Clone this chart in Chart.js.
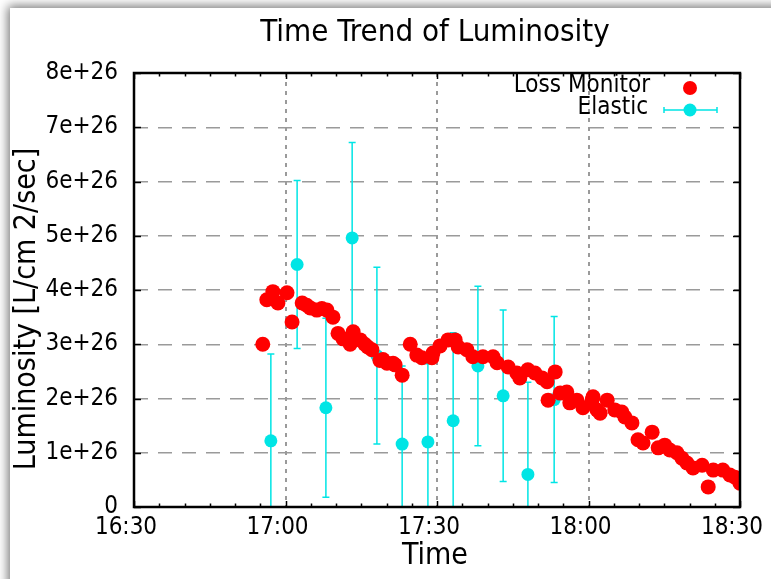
<!DOCTYPE html>
<html>
<head>
<meta charset="utf-8">
<script src="https://cdn.jsdelivr.net/npm/chart.js@4.4.0/dist/chart.umd.min.js"></script>
<style>
	html, body { margin: 0; padding: 0; background: #fff; }
	#wrap { position: absolute; left: 0; top: 0; width: 771px; height: 579px; overflow: hidden; }
	#shade { position: absolute; left: 10px; top: 8px; width: 800px; height: 620px; box-shadow: -2px -2px 10px rgba(0,0,0,0.55); background: #fff; }
	canvas { position: absolute; left: 0; top: 0; }
</style>
</head>
<body>
<div id="wrap">
	<div id="shade"></div>
	<canvas id="grafik" width="771" height="579"></canvas>
</div>
<script>
// time = minutes after 16:30
var lossTime = [25.5, 26.3, 27.5, 28.5, 30.3, 31.3, 33.3, 34.2, 34.9, 36.2, 37.2, 38.2, 39.4, 40.4, 41.4, 42.8, 43.4,
	44.8, 45.7, 46.3, 47.1, 48.7, 49.3, 50.1, 51.3, 51.7, 53.1, 54.7, 56.0, 57.0, 59.0, 59.2, 60.6, 62.2, 63.6, 64.2,
	65.9, 67.1, 69.1, 71.1, 71.9, 74.1, 75.8, 76.4, 78.0, 79.4, 80.8, 81.8, 82.0, 83.4, 84.4, 85.7,
	86.3, 87.7, 88.9, 90.7, 90.9, 91.7, 92.3, 93.7, 95.2, 96.6, 97.2, 98.6, 99.8, 100.8, 102.6, 103.8,
	105.1, 106.1, 107.5, 108.5, 109.5, 110.7, 112.5, 113.7, 114.7, 116.6, 118.0, 119.0, 120.0];
var lossLum = [3.00e26, 3.82e26, 3.97e26, 3.76e26, 3.95e26, 3.41e26, 3.76e26, 3.72e26, 3.67e26, 3.63e26, 3.66e26, 3.63e26, 3.50e26, 3.20e26, 3.10e26, 3.00e26, 3.23e26,
	3.08e26, 3.00e26, 2.95e26, 2.90e26, 2.70e26, 2.72e26, 2.65e26, 2.65e26, 2.62e26, 2.43e26, 3.00e26, 2.80e26, 2.75e26, 2.75e26, 2.84e26, 2.97e26, 3.08e26, 3.08e26, 2.95e26,
	2.90e26, 2.77e26, 2.77e26, 2.77e26, 2.66e26, 2.58e26, 2.47e26, 2.38e26, 2.53e26, 2.47e26, 2.38e26, 2.31e26, 1.97e26, 2.49e26, 2.10e26, 2.12e26,
	1.92e26, 1.97e26, 1.83e26, 1.97e26, 2.03e26, 1.79e26, 1.73e26, 1.97e26, 1.79e26, 1.75e26, 1.66e26, 1.55e26, 1.24e26, 1.18e26, 1.38e26, 1.09e26,
	1.14e26, 1.05e26, 1.00e26, 0.90e26, 0.81e26, 0.72e26, 0.77e26, 0.37e26, 0.68e26, 0.68e26, 0.59e26, 0.55e26, 0.44e26];

var elasticTime = [27.1, 32.3, 38.0, 43.2, 48.1, 53.1, 58.2, 63.2, 68.1, 73.1, 78.0, 83.2];
var elasticLum = [1.22e26, 4.47e26, 1.83e26, 4.96e26, 2.79e26, 1.16e26, 1.20e26, 1.59e26, 2.60e26, 2.05e26, 0.60e26, 1.98e26];
var elasticErr = [1.60e26, 1.55e26, 1.65e26, 1.76e26, 1.63e26, 1.44e26, 1.44e26, 1.62e26, 1.47e26, 1.58e26, 1.70e26, 1.53e26];

var xTicks = ['16:30', '17:00', '17:30', '18:00', '18:30'];

var FONT = '"Liberation Sans Narrow", "Arial Narrow", "DejaVu Sans Condensed", "Liberation Sans", sans-serif';
var RED = '#ff0000';
var CYAN = '#00e5e5';

function toPoints(xs, ys) {
	var out = [];
	for (var i = 0; i < xs.length; i++) {
		out.push({ x: xs[i], y: ys[i] });
	}
	return out;
}

// error bars, frame, inner ticks, titles and legend
var decor = {
	id: 'decor',
	beforeDatasetDraw: function (chart, args) {
		if (args.index !== 1) return;
		var ctx = chart.ctx;
		var xs = chart.scales.x, ys = chart.scales.y, area = chart.chartArea;
		ctx.save();
		ctx.beginPath();
		ctx.rect(area.left, area.top, area.right - area.left, area.bottom - area.top);
		ctx.clip();
		ctx.strokeStyle = CYAN;
		ctx.lineWidth = 1.5;
		for (var i = 0; i < elasticTime.length; i++) {
			var px = xs.getPixelForValue(elasticTime[i]);
			var top = ys.getPixelForValue(elasticLum[i] + elasticErr[i]);
			var bot = ys.getPixelForValue(elasticLum[i] - elasticErr[i]);
			ctx.beginPath();
			ctx.moveTo(px, top); ctx.lineTo(px, bot);
			ctx.moveTo(px - 3.5, top); ctx.lineTo(px + 3.5, top);
			ctx.moveTo(px - 3.5, bot); ctx.lineTo(px + 3.5, bot);
			ctx.stroke();
		}
		ctx.restore();
	},
	afterDraw: function (chart) {
		var ctx = chart.ctx;
		var xs = chart.scales.x, ys = chart.scales.y, a = chart.chartArea;
		ctx.save();
		ctx.strokeStyle = '#000';
		ctx.lineWidth = 1.5;
		ctx.beginPath();
		for (var m = xs.min; m <= xs.max; m += 5) {
			var px = Math.round(xs.getPixelForValue(m)) + 0.5;
			var len = (m % 30 === 0) ? 6 : 3.5;
			ctx.moveTo(px, a.bottom); ctx.lineTo(px, a.bottom - len);
			ctx.moveTo(px, a.top); ctx.lineTo(px, a.top + len);
		}
		for (var v = ys.min; v <= ys.max; v += 1e26) {
			var py = Math.round(ys.getPixelForValue(v)) + 0.5;
			ctx.moveTo(a.left, py); ctx.lineTo(a.left + 7, py);
			ctx.moveTo(a.right, py); ctx.lineTo(a.right - 7, py);
		}
		ctx.stroke();
		ctx.lineWidth = 2.5;
		ctx.strokeRect(a.left, a.top, a.right - a.left, a.bottom - a.top);

		ctx.fillStyle = '#000';
		ctx.textAlign = 'center';
		ctx.textBaseline = 'middle';
		ctx.font = '31px ' + FONT;
		ctx.fillText('Time Trend of Luminosity', 435, 33);
		ctx.font = '30px ' + FONT;
		ctx.fillText('Time', 435, 556);
		ctx.save();
		ctx.translate(27, 309);
		ctx.rotate(-Math.PI / 2);
		ctx.fillText('Luminosity [L/cm 2/sec]', 0, 0);
		ctx.restore();

		// legend
		ctx.font = '24px ' + FONT;
		ctx.textAlign = 'right';
		ctx.fillText('Loss Monitor', 650, 86);
		ctx.fillText('Elastic', 648, 108);
		ctx.fillStyle = RED;
		ctx.beginPath(); ctx.arc(690, 88, 7, 0, Math.PI * 2); ctx.fill();
		ctx.strokeStyle = CYAN;
		ctx.lineWidth = 1.5;
		ctx.beginPath();
		ctx.moveTo(664, 110); ctx.lineTo(717, 110);
		ctx.moveTo(664, 107); ctx.lineTo(664, 113);
		ctx.moveTo(717, 107); ctx.lineTo(717, 113);
		ctx.stroke();
		ctx.fillStyle = CYAN;
		ctx.beginPath(); ctx.arc(690, 110, 6.5, 0, Math.PI * 2); ctx.fill();
		ctx.restore();
	}
};

var ctx = document.getElementById('grafik');

var chart = new Chart(ctx, {
	type: 'scatter',
	data: {
		datasets: [
			{
				label: 'Loss Monitor',
				data: toPoints(lossTime, lossLum),
				backgroundColor: RED,
				borderWidth: 0,
				pointRadius: 7.5
			},
			{
				label: 'Elastic',
				data: toPoints(elasticTime, elasticLum),
				backgroundColor: CYAN,
				borderWidth: 0,
				pointRadius: 6.5
			}
		]
	},
	options: {
		responsive: false,
		animation: false,
		devicePixelRatio: 1,
		layout: { padding: { top: 73, right: 31, left: 0, bottom: 0 } },
		plugins: {
			legend: { display: false },
			title: { display: false },
			tooltip: { enabled: false }
		},
		scales: {
			x: {
				type: 'linear',
				min: 0,
				max: 120,
				afterFit: function (s) { s.height = 72; s.paddingLeft = 0; s.paddingRight = 0; },
				afterBuildTicks: function (s) {
					s.ticks = [0, 30, 60, 90, 120].map(function (v) { return { value: v }; });
				},
				ticks: {
					callback: function (v) { return xTicks[Math.round(v / 30)]; },
					font: { family: FONT, size: 24 },
					color: '#000',
					padding: 6,
					labelOffset: -8,
					maxRotation: 0
				},
				grid: {
					drawTicks: false,
					color: function (c) {
						var v = c.tick ? c.tick.value : 0;
						return (v === 0 || v === 120) ? 'rgba(0,0,0,0)' : '#9a9a9a';
					},
					lineWidth: 2
				},
				border: { display: false, dash: [4, 5] }
			},
			y: {
				min: 0,
				max: 8e26,
				afterFit: function (s) { s.width = 134; s.paddingTop = 0; s.paddingBottom = 0; },
				ticks: {
					stepSize: 1e26,
					callback: function (v) { return v === 0 ? '0' : Math.round(v / 1e26) + 'e+26'; },
					font: { family: FONT, size: 24 },
					color: '#000',
					padding: 16
				},
				grid: {
					drawTicks: false,
					color: '#9a9a9a',
					lineWidth: 1.5
				},
				border: { display: false, dash: [14, 10] }
			}
		}
	},
	plugins: [decor]
});
</script>
</body>
</html>
